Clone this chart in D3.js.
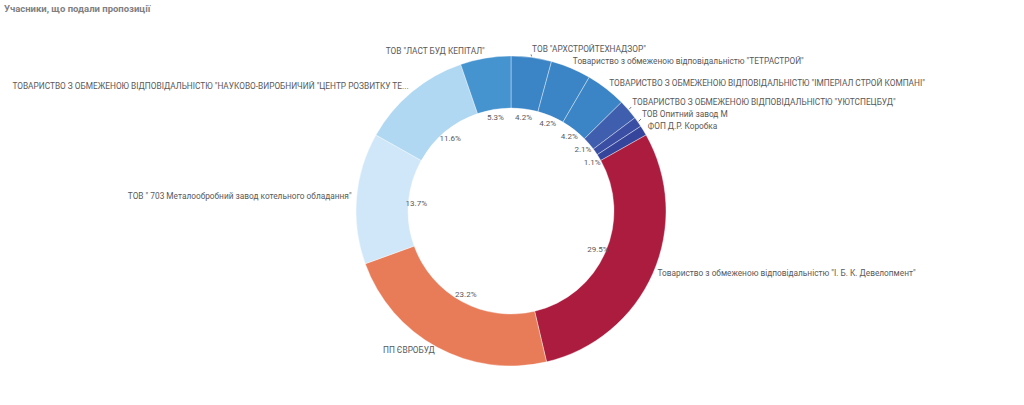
<!DOCTYPE html>
<html>
<head>
<meta charset="utf-8">
<script src="https://cdn.jsdelivr.net/npm/d3@7"></script>
<style>
  body { margin: 0; background: #fff; }
  text { font-family: Roboto, "Noto Sans", sans-serif; }
</style>
</head>
<body>
<svg id="chart"></svg>
<script>
// slices in drawing order, clockwise from 12 o'clock
var names = [
  'ТОВ "АРХСТРОЙТЕХНАДЗОР"',
  'Товариство з обмеженою відповідальністю "ТЕТРАСТРОЙ"',
  'ТОВАРИСТВО З ОБМЕЖЕНОЮ ВІДПОВІДАЛЬНІСТЮ "ІМПЕРІАЛ СТРОЙ КОМПАНІ"',
  'ТОВАРИСТВО З ОБМЕЖЕНОЮ ВІДПОВІДАЛЬНІСТЮ "УЮТСПЕЦБУД"',
  'ТОВ Опитний завод М',
  'ФОП Д.Р. Коробка',
  'Товариство з обмеженою відповідальністю "І. Б. К. Девелопмент"',
  'ПП ЄВРОБУД',
  'ТОВ " 703 Металообробний завод котельного обладання"',
  'ТОВАРИСТВО З ОБМЕЖЕНОЮ ВІДПОВІДАЛЬНІСТЮ "НАУКОВО-ВИРОБНИЧИЙ "ЦЕНТР РОЗВИТКУ ТЕ...',
  'ТОВ "ЛАСТ БУД КЕПІТАЛ"'
];
var counts = [4, 4, 4, 2, 1, 1, 28, 22, 13, 11, 5];
var colors = ['#3b85c6', '#3b85c6', '#3b85c6', '#3f5fae', '#3a4fa4', '#35459b',
              '#ac1c3f', '#e87c59', '#cfe7f9', '#b0d8f2', '#4594d0'];

var W = 1024, H = 405;
var cx = 511, cy = 211, outerR = 155, innerR = 103;

var svg = d3.select("#chart").attr("width", W).attr("height", H);

svg.append("text")
  .attr("x", 4).attr("y", 12)
  .attr("fill", "#808080")
  .style("font-size", "9.5px")
  .style("font-weight", "bold")
  .text("Учасники, що подали пропозиції");

var data = names.map(function (n, i) { return { name: n, value: counts[i], color: colors[i] }; });
var total = d3.sum(counts);

var pie = d3.pie().sort(null).value(function (d) { return d.value; });
var arcs = pie(data);

var arc = d3.arc().innerRadius(innerR).outerRadius(outerR);

var g = svg.append("g").attr("transform", "translate(" + cx + "," + cy + ")");

g.selectAll("path.slice")
  .data(arcs)
  .enter()
  .append("path")
  .attr("class", "slice")
  .attr("d", arc)
  .attr("fill", function (d) { return d.data.color; })
  .attr("stroke", "rgba(255,255,255,0.55)")
  .attr("stroke-width", 0.7);

function mid(d) { return (d.startAngle + d.endAngle) / 2; }
function pt(a, r) { return [r * Math.sin(a), -r * Math.cos(a)]; }

// percentage labels inside the ring, skip ones that would overlap
var pctR = 95;
var placed = [];
arcs.forEach(function (d) {
  var p = pt(mid(d), pctR);
  var clash = placed.some(function (q) { return Math.abs(q[0] - p[0]) < 20 && Math.abs(q[1] - p[1]) < 10; });
  if (clash) return;
  placed.push(p);
  g.append("text")
    .attr("x", p[0]).attr("y", p[1])
    .attr("dy", "0.35em")
    .attr("text-anchor", "middle")
    .attr("fill", "#595959")
    .style("font-size", "8px")
    .text(d3.format(".1f")(d.value / total * 100) + "%");
});

// outside labels, pushed apart vertically on each side
var labR = 160;
var labels = arcs.map(function (d) {
  var a = mid(d);
  var p = pt(a, labR);
  return { d: d, a: a, x: p[0], y0: p[1], y: p[1], right: a < Math.PI };
});
[true, false].forEach(function (side) {
  var list = labels.filter(function (l) { return l.right === side; })
    .sort(function (a, b) { return a.y0 - b.y0; });
  for (var i = list.length - 2; i >= 0; i--) {
    if (list[i].y > list[i + 1].y - 12) list[i].y = list[i + 1].y - 12;
  }
});

labels.forEach(function (l) {
  if (Math.abs(l.y - l.y0) > 0.5) {
    var s = pt(l.a, outerR + 1);
    g.append("line")
      .attr("x1", s[0]).attr("y1", s[1])
      .attr("x2", l.x + (l.right ? -1 : 1)).attr("y2", l.y + 3)
      .attr("stroke", "#595959")
      .attr("stroke-width", 0.8);
  }
  g.append("text")
    .attr("x", l.x).attr("y", l.y - 2)
    .attr("dy", "0.35em")
    .attr("text-anchor", l.right ? "start" : "end")
    .attr("fill", "#595959")
    .style("font-size", "8.3px")
    .text(l.d.data.name);
});
</script>
</body>
</html>
